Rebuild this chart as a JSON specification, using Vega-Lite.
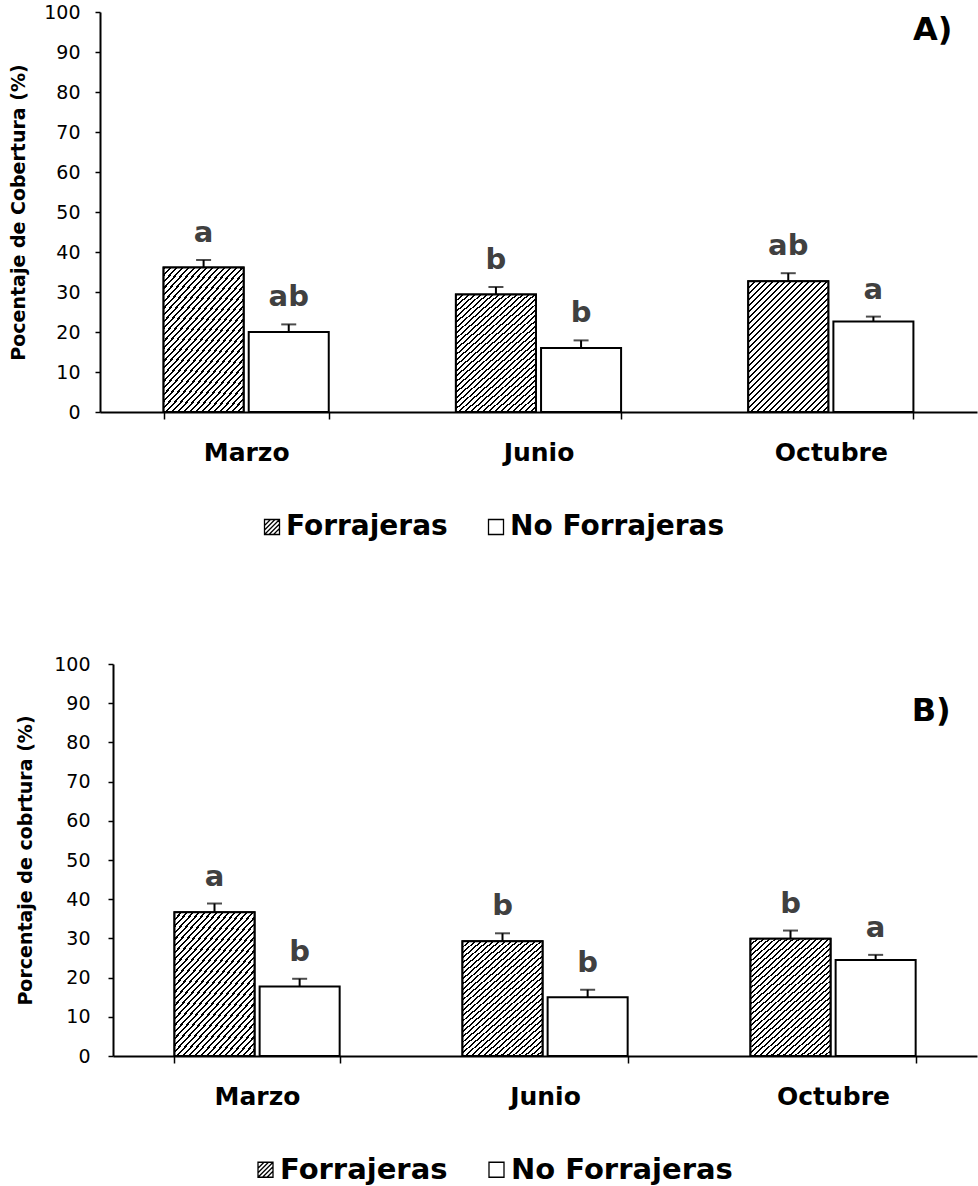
{
  "$schema": "https://vega.github.io/schema/vega-lite/v6.json",
  "padding": {"left": 9, "top": 3, "right": 1, "bottom": 0},
  "columns": 1,
  "spacing": 114,
  "resolve": {"scale": {"fill": "independent", "shape": "independent"}, "legend": {"fill": "independent", "shape": "independent"}},
  "datasets": {
    "A": [
      {"mes": "Marzo", "tipo": "Forrajeras", "valor": 36.1, "sup": 38.0, "letra": "a"},
      {"mes": "Marzo", "tipo": "No Forrajeras", "valor": 20.0, "sup": 21.9, "letra": "ab"},
      {"mes": "Junio", "tipo": "Forrajeras", "valor": 29.35, "sup": 31.25, "letra": "b"},
      {"mes": "Junio", "tipo": "No Forrajeras", "valor": 16.0, "sup": 17.9, "letra": "b"},
      {"mes": "Octubre", "tipo": "Forrajeras", "valor": 32.7, "sup": 34.7, "letra": "ab"},
      {"mes": "Octubre", "tipo": "No Forrajeras", "valor": 22.6, "sup": 23.85, "letra": "a"}
    ],
    "B": [
      {"mes": "Marzo", "tipo": "Forrajeras", "valor": 36.7, "sup": 38.9, "letra": "a"},
      {"mes": "Marzo", "tipo": "No Forrajeras", "valor": 17.7, "sup": 19.7, "letra": "b"},
      {"mes": "Junio", "tipo": "Forrajeras", "valor": 29.3, "sup": 31.3, "letra": "b"},
      {"mes": "Junio", "tipo": "No Forrajeras", "valor": 15.0, "sup": 16.9, "letra": "b"},
      {"mes": "Octubre", "tipo": "Forrajeras", "valor": 29.9, "sup": 32.0, "letra": "b"},
      {"mes": "Octubre", "tipo": "No Forrajeras", "valor": 24.5, "sup": 25.8, "letra": "a"}
    ]
  },
  "config": {
    "font": "DejaVu Sans",
    "view": {"stroke": null},
    "axis": {"domainColor": "#000", "domainWidth": 2, "tickColor": "#000", "tickWidth": 1.5, "labelColor": "#000", "titleColor": "#000", "grid": false, "labelFont": "DejaVu Sans", "titleFont": "DejaVu Sans"},
    "legend": {"labelFont": "DejaVu Sans", "labelColor": "#000"}
  },
  "concat": [
    {
      "data": {"name": "A"},
      "width": 877,
      "height": 400,
      "encoding": {
        "x": {"field": "mes", "type": "nominal", "scale": {"domain": ["Marzo", "Junio", "Octubre"], "paddingInner": 0.435, "paddingOuter": 0.2175},
              "axis": {"title": null, "labelAngle": 0, "labelFontSize": 25, "labelFontWeight": "bold", "tickBand": "extent", "tickSize": 7, "labelPadding": 21}},
        "xOffset": {"field": "tipo", "type": "nominal", "scale": {"domain": ["Forrajeras", "No Forrajeras"], "paddingInner": 0.06, "paddingOuter": 0}}
      },
      "layer": [
        {
          "mark": {"type": "bar", "stroke": "#000", "strokeWidth": 2, "fill": "#ffffff"},
          "encoding": {
            "y": {"field": "valor", "type": "quantitative", "scale": {"domain": [0, 100], "nice": false},
                  "axis": {"title": "Pocentaje de Cobertura (%)", "titleFontSize": 19, "titleFontWeight": "bold", "labelFontSize": 19, "tickSize": 5, "labelPadding": 15, "titlePadding": 15, "tickCount": 11, "labelOverlap": false, "values": [0, 10, 20, 30, 40, 50, 60, 70, 80, 90, 100]}}
          }
        },
        {
          "transform": [{"filter": "datum.tipo === 'Forrajeras'"}],
          "mark": {"type": "bar", "stroke": "#000", "strokeWidth": 2,
            "fill": {"gradient": "linear", "x1": 0, "y1": 0, "x2": 0.738, "y2": 1.2, "stops": [
              {"offset": 0, "color": "#000"}, {"offset": 0.00972, "color": "#000"}, {"offset": 0.00972, "color": "#fff"}, {"offset": 0.02778, "color": "#fff"},
              {"offset": 0.02778, "color": "#000"}, {"offset": 0.0375, "color": "#000"}, {"offset": 0.0375, "color": "#fff"}, {"offset": 0.05556, "color": "#fff"},
              {"offset": 0.05556, "color": "#000"}, {"offset": 0.06528, "color": "#000"}, {"offset": 0.06528, "color": "#fff"}, {"offset": 0.08333, "color": "#fff"},
              {"offset": 0.08333, "color": "#000"}, {"offset": 0.09305, "color": "#000"}, {"offset": 0.09305, "color": "#fff"}, {"offset": 0.11111, "color": "#fff"},
              {"offset": 0.11111, "color": "#000"}, {"offset": 0.12083, "color": "#000"}, {"offset": 0.12083, "color": "#fff"}, {"offset": 0.13889, "color": "#fff"},
              {"offset": 0.13889, "color": "#000"}, {"offset": 0.14861, "color": "#000"}, {"offset": 0.14861, "color": "#fff"}, {"offset": 0.16667, "color": "#fff"},
              {"offset": 0.16667, "color": "#000"}, {"offset": 0.17639, "color": "#000"}, {"offset": 0.17639, "color": "#fff"}, {"offset": 0.19444, "color": "#fff"},
              {"offset": 0.19444, "color": "#000"}, {"offset": 0.20416, "color": "#000"}, {"offset": 0.20416, "color": "#fff"}, {"offset": 0.22222, "color": "#fff"},
              {"offset": 0.22222, "color": "#000"}, {"offset": 0.23194, "color": "#000"}, {"offset": 0.23194, "color": "#fff"}, {"offset": 0.25, "color": "#fff"},
              {"offset": 0.25, "color": "#000"}, {"offset": 0.25972, "color": "#000"}, {"offset": 0.25972, "color": "#fff"}, {"offset": 0.27778, "color": "#fff"},
              {"offset": 0.27778, "color": "#000"}, {"offset": 0.2875, "color": "#000"}, {"offset": 0.2875, "color": "#fff"}, {"offset": 0.30556, "color": "#fff"},
              {"offset": 0.30556, "color": "#000"}, {"offset": 0.31528, "color": "#000"}, {"offset": 0.31528, "color": "#fff"}, {"offset": 0.33333, "color": "#fff"},
              {"offset": 0.33333, "color": "#000"}, {"offset": 0.34305, "color": "#000"}, {"offset": 0.34305, "color": "#fff"}, {"offset": 0.36111, "color": "#fff"},
              {"offset": 0.36111, "color": "#000"}, {"offset": 0.37083, "color": "#000"}, {"offset": 0.37083, "color": "#fff"}, {"offset": 0.38889, "color": "#fff"},
              {"offset": 0.38889, "color": "#000"}, {"offset": 0.39861, "color": "#000"}, {"offset": 0.39861, "color": "#fff"}, {"offset": 0.41667, "color": "#fff"},
              {"offset": 0.41667, "color": "#000"}, {"offset": 0.42639, "color": "#000"}, {"offset": 0.42639, "color": "#fff"}, {"offset": 0.44444, "color": "#fff"},
              {"offset": 0.44444, "color": "#000"}, {"offset": 0.45416, "color": "#000"}, {"offset": 0.45416, "color": "#fff"}, {"offset": 0.47222, "color": "#fff"},
              {"offset": 0.47222, "color": "#000"}, {"offset": 0.48194, "color": "#000"}, {"offset": 0.48194, "color": "#fff"}, {"offset": 0.5, "color": "#fff"},
              {"offset": 0.5, "color": "#000"}, {"offset": 0.50972, "color": "#000"}, {"offset": 0.50972, "color": "#fff"}, {"offset": 0.52778, "color": "#fff"},
              {"offset": 0.52778, "color": "#000"}, {"offset": 0.5375, "color": "#000"}, {"offset": 0.5375, "color": "#fff"}, {"offset": 0.55556, "color": "#fff"},
              {"offset": 0.55556, "color": "#000"}, {"offset": 0.56528, "color": "#000"}, {"offset": 0.56528, "color": "#fff"}, {"offset": 0.58333, "color": "#fff"},
              {"offset": 0.58333, "color": "#000"}, {"offset": 0.59305, "color": "#000"}, {"offset": 0.59305, "color": "#fff"}, {"offset": 0.61111, "color": "#fff"},
              {"offset": 0.61111, "color": "#000"}, {"offset": 0.62083, "color": "#000"}, {"offset": 0.62083, "color": "#fff"}, {"offset": 0.63889, "color": "#fff"},
              {"offset": 0.63889, "color": "#000"}, {"offset": 0.64861, "color": "#000"}, {"offset": 0.64861, "color": "#fff"}, {"offset": 0.66667, "color": "#fff"},
              {"offset": 0.66667, "color": "#000"}, {"offset": 0.67639, "color": "#000"}, {"offset": 0.67639, "color": "#fff"}, {"offset": 0.69444, "color": "#fff"},
              {"offset": 0.69444, "color": "#000"}, {"offset": 0.70416, "color": "#000"}, {"offset": 0.70416, "color": "#fff"}, {"offset": 0.72222, "color": "#fff"},
              {"offset": 0.72222, "color": "#000"}, {"offset": 0.73194, "color": "#000"}, {"offset": 0.73194, "color": "#fff"}, {"offset": 0.75, "color": "#fff"},
              {"offset": 0.75, "color": "#000"}, {"offset": 0.75972, "color": "#000"}, {"offset": 0.75972, "color": "#fff"}, {"offset": 0.77778, "color": "#fff"},
              {"offset": 0.77778, "color": "#000"}, {"offset": 0.7875, "color": "#000"}, {"offset": 0.7875, "color": "#fff"}, {"offset": 0.80556, "color": "#fff"},
              {"offset": 0.80556, "color": "#000"}, {"offset": 0.81528, "color": "#000"}, {"offset": 0.81528, "color": "#fff"}, {"offset": 0.83333, "color": "#fff"},
              {"offset": 0.83333, "color": "#000"}, {"offset": 0.84305, "color": "#000"}, {"offset": 0.84305, "color": "#fff"}, {"offset": 0.86111, "color": "#fff"},
              {"offset": 0.86111, "color": "#000"}, {"offset": 0.87083, "color": "#000"}, {"offset": 0.87083, "color": "#fff"}, {"offset": 0.88889, "color": "#fff"},
              {"offset": 0.88889, "color": "#000"}, {"offset": 0.89861, "color": "#000"}, {"offset": 0.89861, "color": "#fff"}, {"offset": 0.91667, "color": "#fff"},
              {"offset": 0.91667, "color": "#000"}, {"offset": 0.92639, "color": "#000"}, {"offset": 0.92639, "color": "#fff"}, {"offset": 0.94444, "color": "#fff"},
              {"offset": 0.94444, "color": "#000"}, {"offset": 0.95416, "color": "#000"}, {"offset": 0.95416, "color": "#fff"}, {"offset": 0.97222, "color": "#fff"},
              {"offset": 0.97222, "color": "#000"}, {"offset": 0.98194, "color": "#000"}, {"offset": 0.98194, "color": "#fff"}, {"offset": 1, "color": "#fff"}
            ]}},
          "encoding": {"y": {"field": "valor", "type": "quantitative",
                  "axis": {"title": "Pocentaje de Cobertura (%)", "titleFontSize": 19, "titleFontWeight": "bold", "labelFontSize": 19, "tickSize": 5, "labelPadding": 15, "titlePadding": 15, "tickCount": 11, "labelOverlap": false, "values": [0, 10, 20, 30, 40, 50, 60, 70, 80, 90, 100]}}}
        },
        {
          "mark": {"type": "point", "opacity": 0, "filled": false},
          "encoding": {
            "y": {"field": "valor", "type": "quantitative",
                  "axis": {"title": "Pocentaje de Cobertura (%)", "titleFontSize": 19, "titleFontWeight": "bold", "labelFontSize": 19, "tickSize": 5, "labelPadding": 15, "titlePadding": 15, "tickCount": 11, "labelOverlap": false, "values": [0, 10, 20, 30, 40, 50, 60, 70, 80, 90, 100]}},
            "shape": {"field": "tipo", "type": "nominal", "scale": {"domain": ["Forrajeras", "No Forrajeras"], "range": ["M-1,-1H1V1H-1Z M-1,-0.2L-0.2,-1 M-1,0.4L0.4,-1 M-1,1L1,-1 M-0.4,1L1,-0.4 M0.2,1L1,0.2", "M-1,-1H1V1H-1Z"]},
                      "legend": {"title": null, "orient": "none", "legendX": 158, "legendY": 501, "direction": "horizontal", "symbolSize": 225, "labelFontSize": 28, "labelFontWeight": "bold", "labelOffset": 0, "columnPadding": 34, "labelLimit": 0, "symbolStrokeColor": "#000", "symbolFillColor": "#fff", "symbolStrokeWidth": 1.3, "symbolOpacity": 1,
                                 "encode": {"symbols": {"update": {"stroke": {"value": "#000"}, "fill": {"value": "#fff"}, "opacity": {"value": 1}, "strokeWidth": {"value": 1.3}}}}}}
          }
        },
        {
          "mark": {"type": "rule", "stroke": "#000", "strokeWidth": 2},
          "encoding": {"y": {"field": "valor", "type": "quantitative",
                  "axis": {"title": "Pocentaje de Cobertura (%)", "titleFontSize": 19, "titleFontWeight": "bold", "labelFontSize": 19, "tickSize": 5, "labelPadding": 15, "titlePadding": 15, "tickCount": 11, "labelOverlap": false, "values": [0, 10, 20, 30, 40, 50, 60, 70, 80, 90, 100]}}, "y2": {"field": "sup"}}
        },
        {
          "mark": {"type": "tick", "color": "#000", "size": 15, "thickness": 2},
          "encoding": {"y": {"field": "sup", "type": "quantitative",
                  "axis": {"title": "Pocentaje de Cobertura (%)", "titleFontSize": 19, "titleFontWeight": "bold", "labelFontSize": 19, "tickSize": 5, "labelPadding": 15, "titlePadding": 15, "tickCount": 11, "labelOverlap": false, "values": [0, 10, 20, 30, 40, 50, 60, 70, 80, 90, 100]}}}
        },
        {
          "mark": {"type": "text", "dy": -18, "baseline": "alphabetic", "fontSize": 29, "fontWeight": "bold", "color": "#404040"},
          "encoding": {"y": {"field": "sup", "type": "quantitative",
                  "axis": {"title": "Pocentaje de Cobertura (%)", "titleFontSize": 19, "titleFontWeight": "bold", "labelFontSize": 19, "tickSize": 5, "labelPadding": 15, "titlePadding": 15, "tickCount": 11, "labelOverlap": false, "values": [0, 10, 20, 30, 40, 50, 60, 70, 80, 90, 100]}}, "text": {"field": "letra"}}
        },
        {
          "data": {"values": [{"etiqueta": "A)"}]},
          "mark": {"type": "text", "align": "right", "baseline": "middle", "fontSize": 32, "fontWeight": "bold", "color": "#000", "dx": 79},
          "encoding": {"x": {"datum": "Octubre"}, "xOffset": {"datum": "No Forrajeras"},
                       "y": {"datum": 95.4, "type": "quantitative",
                  "axis": {"title": "Pocentaje de Cobertura (%)", "titleFontSize": 19, "titleFontWeight": "bold", "labelFontSize": 19, "tickSize": 5, "labelPadding": 15, "titlePadding": 15, "tickCount": 11, "labelOverlap": false, "values": [0, 10, 20, 30, 40, 50, 60, 70, 80, 90, 100]}}, "text": {"field": "etiqueta"}}
        }
      ]
    },
    {
      "data": {"name": "B"},
      "width": 877,
      "height": 392,
      "encoding": {
        "x": {"field": "mes", "type": "nominal", "scale": {"domain": ["Marzo", "Junio", "Octubre"], "range": [13, 877], "paddingInner": 0.427, "paddingOuter": 0.2135},
              "axis": {"title": null, "labelAngle": 0, "labelFontSize": 25, "labelFontWeight": "bold", "tickBand": "extent", "tickSize": 7, "labelPadding": 21}},
        "xOffset": {"field": "tipo", "type": "nominal", "scale": {"domain": ["Forrajeras", "No Forrajeras"], "paddingInner": 0.06, "paddingOuter": 0}}
      },
      "layer": [
        {
          "mark": {"type": "bar", "stroke": "#000", "strokeWidth": 2, "fill": "#ffffff"},
          "encoding": {
            "y": {"field": "valor", "type": "quantitative", "scale": {"domain": [0, 100], "nice": false},
                  "axis": {"title": "Porcentaje de cobrtura (%)", "offset": -13, "titleFontSize": 19, "titleFontWeight": "bold", "labelFontSize": 19, "tickSize": 5, "labelPadding": 18, "titlePadding": 18, "tickCount": 11, "labelOverlap": false, "values": [0, 10, 20, 30, 40, 50, 60, 70, 80, 90, 100]}}
          }
        },
        {
          "transform": [{"filter": "datum.tipo === 'Forrajeras'"}],
          "mark": {"type": "bar", "stroke": "#000", "strokeWidth": 2,
            "fill": {"gradient": "linear", "x1": 0, "y1": 0, "x2": 0.738, "y2": 1.2, "stops": [
              {"offset": 0, "color": "#000"}, {"offset": 0.00972, "color": "#000"}, {"offset": 0.00972, "color": "#fff"}, {"offset": 0.02778, "color": "#fff"},
              {"offset": 0.02778, "color": "#000"}, {"offset": 0.0375, "color": "#000"}, {"offset": 0.0375, "color": "#fff"}, {"offset": 0.05556, "color": "#fff"},
              {"offset": 0.05556, "color": "#000"}, {"offset": 0.06528, "color": "#000"}, {"offset": 0.06528, "color": "#fff"}, {"offset": 0.08333, "color": "#fff"},
              {"offset": 0.08333, "color": "#000"}, {"offset": 0.09305, "color": "#000"}, {"offset": 0.09305, "color": "#fff"}, {"offset": 0.11111, "color": "#fff"},
              {"offset": 0.11111, "color": "#000"}, {"offset": 0.12083, "color": "#000"}, {"offset": 0.12083, "color": "#fff"}, {"offset": 0.13889, "color": "#fff"},
              {"offset": 0.13889, "color": "#000"}, {"offset": 0.14861, "color": "#000"}, {"offset": 0.14861, "color": "#fff"}, {"offset": 0.16667, "color": "#fff"},
              {"offset": 0.16667, "color": "#000"}, {"offset": 0.17639, "color": "#000"}, {"offset": 0.17639, "color": "#fff"}, {"offset": 0.19444, "color": "#fff"},
              {"offset": 0.19444, "color": "#000"}, {"offset": 0.20416, "color": "#000"}, {"offset": 0.20416, "color": "#fff"}, {"offset": 0.22222, "color": "#fff"},
              {"offset": 0.22222, "color": "#000"}, {"offset": 0.23194, "color": "#000"}, {"offset": 0.23194, "color": "#fff"}, {"offset": 0.25, "color": "#fff"},
              {"offset": 0.25, "color": "#000"}, {"offset": 0.25972, "color": "#000"}, {"offset": 0.25972, "color": "#fff"}, {"offset": 0.27778, "color": "#fff"},
              {"offset": 0.27778, "color": "#000"}, {"offset": 0.2875, "color": "#000"}, {"offset": 0.2875, "color": "#fff"}, {"offset": 0.30556, "color": "#fff"},
              {"offset": 0.30556, "color": "#000"}, {"offset": 0.31528, "color": "#000"}, {"offset": 0.31528, "color": "#fff"}, {"offset": 0.33333, "color": "#fff"},
              {"offset": 0.33333, "color": "#000"}, {"offset": 0.34305, "color": "#000"}, {"offset": 0.34305, "color": "#fff"}, {"offset": 0.36111, "color": "#fff"},
              {"offset": 0.36111, "color": "#000"}, {"offset": 0.37083, "color": "#000"}, {"offset": 0.37083, "color": "#fff"}, {"offset": 0.38889, "color": "#fff"},
              {"offset": 0.38889, "color": "#000"}, {"offset": 0.39861, "color": "#000"}, {"offset": 0.39861, "color": "#fff"}, {"offset": 0.41667, "color": "#fff"},
              {"offset": 0.41667, "color": "#000"}, {"offset": 0.42639, "color": "#000"}, {"offset": 0.42639, "color": "#fff"}, {"offset": 0.44444, "color": "#fff"},
              {"offset": 0.44444, "color": "#000"}, {"offset": 0.45416, "color": "#000"}, {"offset": 0.45416, "color": "#fff"}, {"offset": 0.47222, "color": "#fff"},
              {"offset": 0.47222, "color": "#000"}, {"offset": 0.48194, "color": "#000"}, {"offset": 0.48194, "color": "#fff"}, {"offset": 0.5, "color": "#fff"},
              {"offset": 0.5, "color": "#000"}, {"offset": 0.50972, "color": "#000"}, {"offset": 0.50972, "color": "#fff"}, {"offset": 0.52778, "color": "#fff"},
              {"offset": 0.52778, "color": "#000"}, {"offset": 0.5375, "color": "#000"}, {"offset": 0.5375, "color": "#fff"}, {"offset": 0.55556, "color": "#fff"},
              {"offset": 0.55556, "color": "#000"}, {"offset": 0.56528, "color": "#000"}, {"offset": 0.56528, "color": "#fff"}, {"offset": 0.58333, "color": "#fff"},
              {"offset": 0.58333, "color": "#000"}, {"offset": 0.59305, "color": "#000"}, {"offset": 0.59305, "color": "#fff"}, {"offset": 0.61111, "color": "#fff"},
              {"offset": 0.61111, "color": "#000"}, {"offset": 0.62083, "color": "#000"}, {"offset": 0.62083, "color": "#fff"}, {"offset": 0.63889, "color": "#fff"},
              {"offset": 0.63889, "color": "#000"}, {"offset": 0.64861, "color": "#000"}, {"offset": 0.64861, "color": "#fff"}, {"offset": 0.66667, "color": "#fff"},
              {"offset": 0.66667, "color": "#000"}, {"offset": 0.67639, "color": "#000"}, {"offset": 0.67639, "color": "#fff"}, {"offset": 0.69444, "color": "#fff"},
              {"offset": 0.69444, "color": "#000"}, {"offset": 0.70416, "color": "#000"}, {"offset": 0.70416, "color": "#fff"}, {"offset": 0.72222, "color": "#fff"},
              {"offset": 0.72222, "color": "#000"}, {"offset": 0.73194, "color": "#000"}, {"offset": 0.73194, "color": "#fff"}, {"offset": 0.75, "color": "#fff"},
              {"offset": 0.75, "color": "#000"}, {"offset": 0.75972, "color": "#000"}, {"offset": 0.75972, "color": "#fff"}, {"offset": 0.77778, "color": "#fff"},
              {"offset": 0.77778, "color": "#000"}, {"offset": 0.7875, "color": "#000"}, {"offset": 0.7875, "color": "#fff"}, {"offset": 0.80556, "color": "#fff"},
              {"offset": 0.80556, "color": "#000"}, {"offset": 0.81528, "color": "#000"}, {"offset": 0.81528, "color": "#fff"}, {"offset": 0.83333, "color": "#fff"},
              {"offset": 0.83333, "color": "#000"}, {"offset": 0.84305, "color": "#000"}, {"offset": 0.84305, "color": "#fff"}, {"offset": 0.86111, "color": "#fff"},
              {"offset": 0.86111, "color": "#000"}, {"offset": 0.87083, "color": "#000"}, {"offset": 0.87083, "color": "#fff"}, {"offset": 0.88889, "color": "#fff"},
              {"offset": 0.88889, "color": "#000"}, {"offset": 0.89861, "color": "#000"}, {"offset": 0.89861, "color": "#fff"}, {"offset": 0.91667, "color": "#fff"},
              {"offset": 0.91667, "color": "#000"}, {"offset": 0.92639, "color": "#000"}, {"offset": 0.92639, "color": "#fff"}, {"offset": 0.94444, "color": "#fff"},
              {"offset": 0.94444, "color": "#000"}, {"offset": 0.95416, "color": "#000"}, {"offset": 0.95416, "color": "#fff"}, {"offset": 0.97222, "color": "#fff"},
              {"offset": 0.97222, "color": "#000"}, {"offset": 0.98194, "color": "#000"}, {"offset": 0.98194, "color": "#fff"}, {"offset": 1, "color": "#fff"}
            ]}},
          "encoding": {"y": {"field": "valor", "type": "quantitative",
                  "axis": {"title": "Porcentaje de cobrtura (%)", "offset": -13, "titleFontSize": 19, "titleFontWeight": "bold", "labelFontSize": 19, "tickSize": 5, "labelPadding": 18, "titlePadding": 18, "tickCount": 11, "labelOverlap": false, "values": [0, 10, 20, 30, 40, 50, 60, 70, 80, 90, 100]}}}
        },
        {
          "mark": {"type": "point", "opacity": 0, "filled": false},
          "encoding": {
            "y": {"field": "valor", "type": "quantitative",
                  "axis": {"title": "Porcentaje de cobrtura (%)", "offset": -13, "titleFontSize": 19, "titleFontWeight": "bold", "labelFontSize": 19, "tickSize": 5, "labelPadding": 18, "titlePadding": 18, "tickCount": 11, "labelOverlap": false, "values": [0, 10, 20, 30, 40, 50, 60, 70, 80, 90, 100]}},
            "shape": {"field": "tipo", "type": "nominal", "scale": {"domain": ["Forrajeras", "No Forrajeras"], "range": ["M-1,-1H1V1H-1Z M-1,-0.2L-0.2,-1 M-1,0.4L0.4,-1 M-1,1L1,-1 M-0.4,1L1,-0.4 M0.2,1L1,0.2", "M-1,-1H1V1H-1Z"]},
                      "legend": {"title": null, "orient": "none", "legendX": 151, "legendY": 491, "direction": "horizontal", "symbolSize": 225, "labelFontSize": 29, "labelFontWeight": "bold", "labelOffset": 0, "columnPadding": 34, "labelLimit": 0, "symbolStrokeColor": "#000", "symbolFillColor": "#fff", "symbolStrokeWidth": 1.3, "symbolOpacity": 1,
                                 "encode": {"symbols": {"update": {"stroke": {"value": "#000"}, "fill": {"value": "#fff"}, "opacity": {"value": 1}, "strokeWidth": {"value": 1.3}}}}}}
          }
        },
        {
          "mark": {"type": "rule", "stroke": "#000", "strokeWidth": 2},
          "encoding": {"y": {"field": "valor", "type": "quantitative",
                  "axis": {"title": "Porcentaje de cobrtura (%)", "offset": -13, "titleFontSize": 19, "titleFontWeight": "bold", "labelFontSize": 19, "tickSize": 5, "labelPadding": 18, "titlePadding": 18, "tickCount": 11, "labelOverlap": false, "values": [0, 10, 20, 30, 40, 50, 60, 70, 80, 90, 100]}}, "y2": {"field": "sup"}}
        },
        {
          "mark": {"type": "tick", "color": "#000", "size": 15, "thickness": 2},
          "encoding": {"y": {"field": "sup", "type": "quantitative",
                  "axis": {"title": "Porcentaje de cobrtura (%)", "offset": -13, "titleFontSize": 19, "titleFontWeight": "bold", "labelFontSize": 19, "tickSize": 5, "labelPadding": 18, "titlePadding": 18, "tickCount": 11, "labelOverlap": false, "values": [0, 10, 20, 30, 40, 50, 60, 70, 80, 90, 100]}}}
        },
        {
          "mark": {"type": "text", "dy": -18, "baseline": "alphabetic", "fontSize": 29, "fontWeight": "bold", "color": "#404040"},
          "encoding": {"y": {"field": "sup", "type": "quantitative",
                  "axis": {"title": "Porcentaje de cobrtura (%)", "offset": -13, "titleFontSize": 19, "titleFontWeight": "bold", "labelFontSize": 19, "tickSize": 5, "labelPadding": 18, "titlePadding": 18, "tickCount": 11, "labelOverlap": false, "values": [0, 10, 20, 30, 40, 50, 60, 70, 80, 90, 100]}}, "text": {"field": "letra"}}
        },
        {
          "data": {"values": [{"etiqueta": "B)"}]},
          "mark": {"type": "text", "align": "right", "baseline": "middle", "fontSize": 32, "fontWeight": "bold", "color": "#000", "dx": 75},
          "encoding": {"x": {"datum": "Octubre"}, "xOffset": {"datum": "No Forrajeras"},
                       "y": {"datum": 87.9, "type": "quantitative",
                  "axis": {"title": "Porcentaje de cobrtura (%)", "offset": -13, "titleFontSize": 19, "titleFontWeight": "bold", "labelFontSize": 19, "tickSize": 5, "labelPadding": 18, "titlePadding": 18, "tickCount": 11, "labelOverlap": false, "values": [0, 10, 20, 30, 40, 50, 60, 70, 80, 90, 100]}}, "text": {"field": "etiqueta"}}
        }
      ]
    }
  ]
}
